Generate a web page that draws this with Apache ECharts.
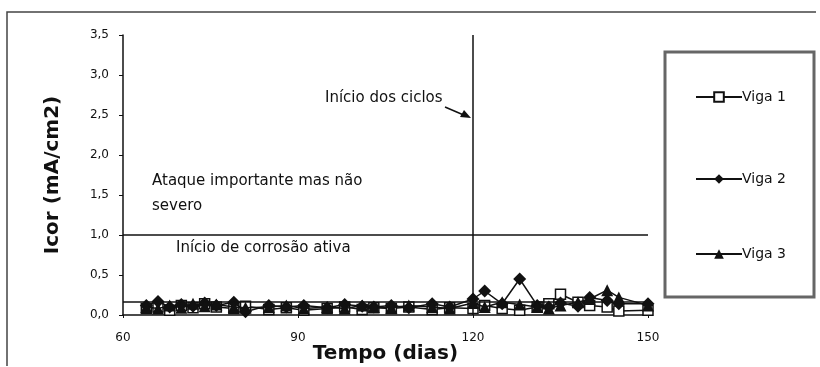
<!DOCTYPE html>
<html>
<head>
<meta charset="utf-8">
<script src="https://cdn.jsdelivr.net/npm/echarts@6/dist/echarts.min.js"></script>
<style>
  html, body { margin: 0; padding: 0; background: #fff; }
  #main { width: 820px; height: 367px; }
</style>
</head>
<body>
<div id="main"></div>
<script>
// dias de medicao
var days = [64, 66, 68, 70, 72, 74, 76, 79, 81, 85, 88, 91, 95, 98, 101, 103, 106, 109, 113, 116, 120, 122, 125, 128, 131, 133, 135, 138, 140, 143, 145, 150];
var viga1 = [0.08, 0.10, 0.06, 0.12, 0.09, 0.14, 0.10, 0.08, 0.11, 0.07, 0.09, 0.06, 0.08, 0.10, 0.07, 0.09, 0.08, 0.10, 0.07, 0.09, 0.08, 0.12, 0.08, 0.06, 0.10, 0.14, 0.26, 0.16, 0.12, 0.10, 0.05, 0.06];
var viga2 = [0.12, 0.17, 0.10, 0.13, 0.11, 0.15, 0.12, 0.16, 0.04, 0.12, 0.10, 0.12, 0.09, 0.13, 0.11, 0.10, 0.12, 0.09, 0.14, 0.10, 0.20, 0.30, 0.14, 0.45, 0.12, 0.10, 0.15, 0.11, 0.22, 0.18, 0.14, 0.14];
var viga3 = [0.10, 0.08, 0.12, 0.09, 0.14, 0.11, 0.13, 0.10, 0.09, 0.10, 0.12, 0.08, 0.10, 0.08, 0.12, 0.10, 0.09, 0.12, 0.10, 0.08, 0.15, 0.10, 0.16, 0.13, 0.10, 0.08, 0.12, 0.16, 0.20, 0.31, 0.22, 0.12];

var inicioCiclos = 120;   // linha vertical
var corrosaoAtiva = 1.0;  // linha horizontal
var limiteBaixo = 0.17;

function pares(vals) {
    return days.map(function (d, i) { return [d, vals[i]]; });
}

var fonte = 'DejaVu Sans';
var myChart = echarts.init(document.getElementById('main'));

var option = {
    backgroundColor: '#fff',
    animation: false,
    textStyle: { fontFamily: fonte, color: '#111' },
    grid: { left: 123, right: 172, top: 35, bottom: 52, containLabel: false, outerBoundsMode: 'none' },
    legend: [
        { data: ['Viga 1'], left: 690, top: 85 },
        { data: ['Viga 2'], left: 690, top: 167 },
        { data: ['Viga 3'], left: 690, top: 242 }
    ].map(function (l) {
        l.orient = 'vertical';
        l.itemWidth = 46;
        l.itemHeight = 12;
        l.itemGap = 0;
        l.textStyle = { fontFamily: fonte, fontSize: 14, color: '#111', padding: [0, 0, 0, -5] };
        return l;
    }),
    xAxis: {
        type: 'value',
        min: 60,
        max: 150,
        interval: 30,
        name: 'Tempo (dias)',
        nameLocation: 'middle',
        nameGap: 29,
        nameMoveOverlap: false,
        nameTextStyle: { fontFamily: fonte, fontSize: 20, fontWeight: 'bold', color: '#111' },
        axisLine: { lineStyle: { color: '#111', width: 1.5 } },
        axisTick: { show: true, length: 3, lineStyle: { color: '#111' } },
        axisLabel: { fontSize: 12, color: '#111', margin: 17 },
        splitLine: { show: false }
    },
    yAxis: {
        type: 'value',
        min: 0,
        max: 3.5,
        interval: 0.5,
        name: 'Icor (mA/cm2)',
        nameLocation: 'middle',
        nameGap: 60,
        nameMoveOverlap: false,
        nameTextStyle: { fontFamily: fonte, fontSize: 20, fontWeight: 'bold', color: '#111' },
        axisLine: { show: true, lineStyle: { color: '#111', width: 1.5 } },
        axisTick: { show: true, inside: false, length: 4, lineStyle: { color: '#111' } },
        axisLabel: {
            fontSize: 12, color: '#111', margin: 14,
            formatter: function (v) { return v.toFixed(1).replace('.', ','); }
        },
        splitLine: { show: false }
    },
    series: [
        {
            name: 'Viga 1',
            type: 'line',
            data: pares(viga1),
            symbol: 'rect',
            symbolSize: 10,
            lineStyle: { color: '#111', width: 1.5 },
            itemStyle: { color: '#fff', borderColor: '#111', borderWidth: 1.5 },
            z: 3,
            markLine: {
                silent: true,
                symbol: 'none',
                label: { show: false },
                lineStyle: { color: '#111', width: 1.5, type: 'solid' },
                data: [
                    { xAxis: inicioCiclos },
                    { yAxis: corrosaoAtiva },
                    { yAxis: limiteBaixo }
                ]
            }
        },
        {
            name: 'Viga 2',
            type: 'line',
            data: pares(viga2),
            symbol: 'diamond',
            symbolSize: 13,
            lineStyle: { color: '#111', width: 1.5 },
            itemStyle: { color: '#111' },
            z: 4
        },
        {
            name: 'Viga 3',
            type: 'line',
            data: pares(viga3),
            symbol: 'triangle',
            symbolSize: 12,
            lineStyle: { color: '#111', width: 1.5 },
            itemStyle: { color: '#111' },
            z: 5
        }
    ],
    graphic: [
        // moldura externa
        { type: 'polyline', shape: { points: [[7, 366], [7, 12], [816, 12]] }, style: { stroke: '#444', lineWidth: 1.5, fill: null } },
        // caixa da legenda
        { type: 'rect', shape: { x: 665, y: 52, width: 149, height: 245 }, style: { stroke: '#666', lineWidth: 3, fill: null } },
        { type: 'text', left: 152, top: 169, style: { text: 'Ataque importante mas não\nsevero', font: '15px "DejaVu Sans"', fill: '#111', lineHeight: 25 } },
        { type: 'text', left: 176, top: 241, style: { text: 'Início de corrosão ativa', font: '15px "DejaVu Sans"', fill: '#111' } },
        { type: 'text', left: 325, top: 91, style: { text: 'Início dos ciclos', font: '15px "DejaVu Sans"', fill: '#111' } },
        { type: 'line', shape: { x1: 445, y1: 107, x2: 466, y2: 116 }, style: { stroke: '#111', lineWidth: 1.5 } },
        { type: 'polygon', shape: { points: [[471, 118], [460, 117], [464, 110]] }, style: { fill: '#111' } }
    ]
};

myChart.setOption(option);
</script>
</body>
</html>
